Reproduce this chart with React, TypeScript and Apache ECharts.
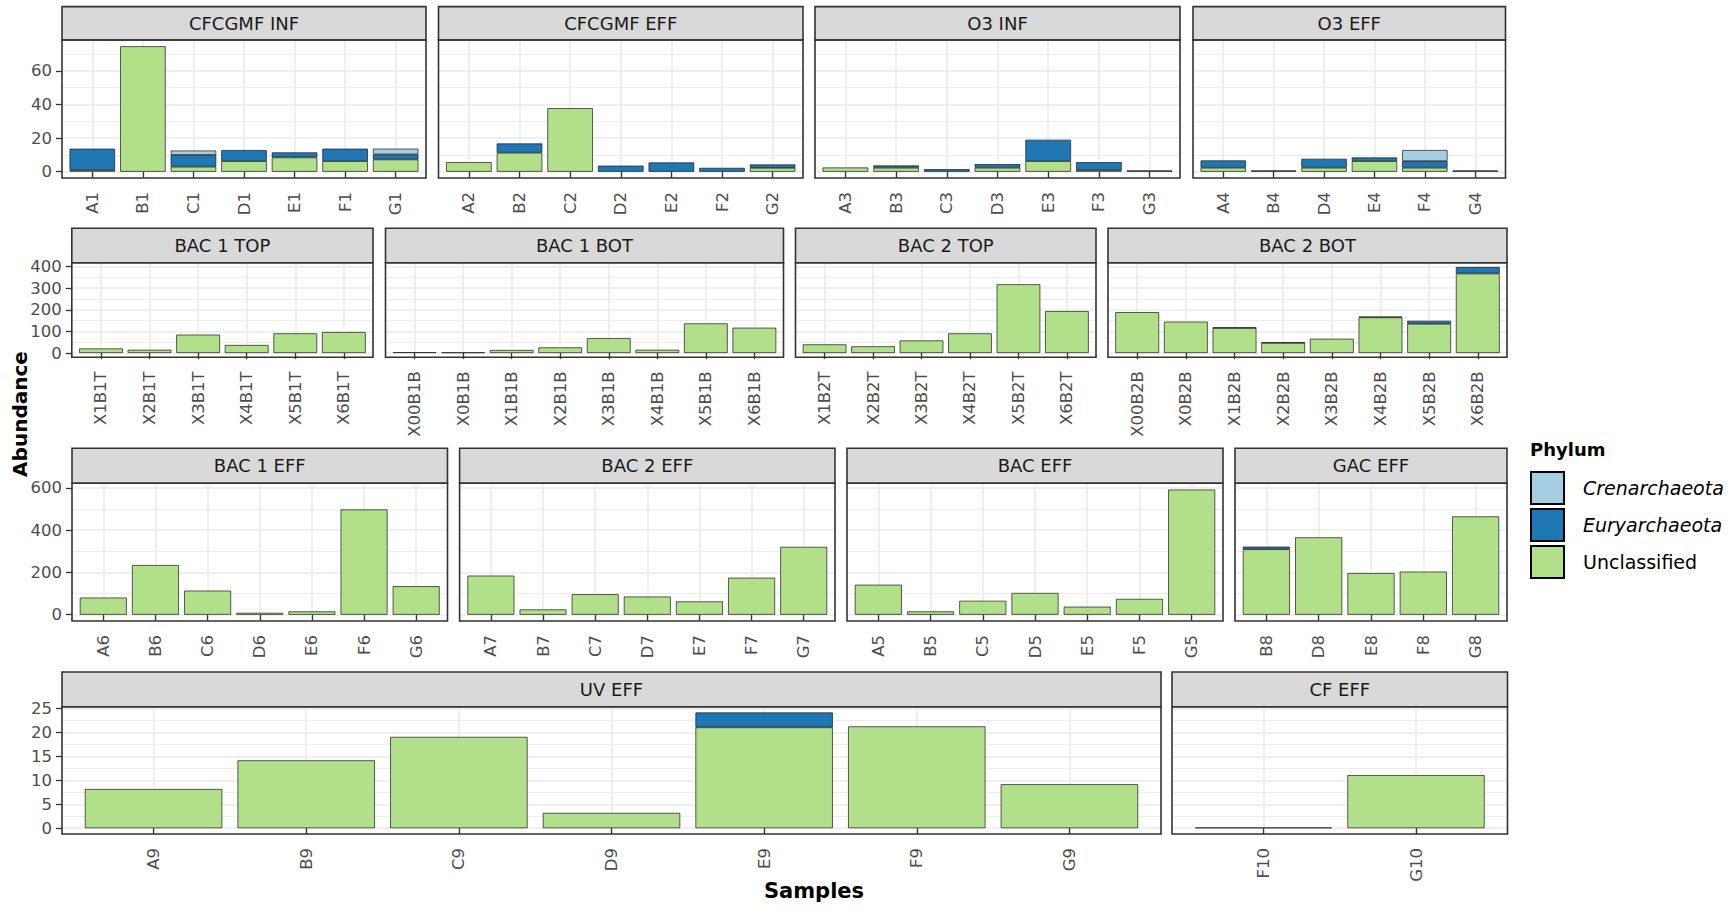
import React, { useEffect, useRef } from 'react';
import * as echarts from 'echarts';

const FONT = 'DejaVu Sans';

// Phylum fill colours (ColorBrewer "Paired")
const CREN_COLOR = '#A6CEE3';
const EURY_COLOR = '#1F78B4';
const UNCL_COLOR = '#B2DF8A';
const LEGEND_NAMES = ['Crenarchaeota', 'Euryarchaeota', 'Unclassified'];

// ---- abundance per sample, one set of arrays per treatment facet ----
const cfcgmfInfSamples = ['A1', 'B1', 'C1', 'D1', 'E1', 'F1', 'G1'];
const cfcgmfInfUnclassified = [1.0, 74.6, 3.0, 6.3, 8.5, 6.3, 7.3];
const cfcgmfInfEuryarchaeota = [12.7, 0, 7.0, 6.6, 3.0, 7.4, 3.0];
const cfcgmfInfCrenarchaeota = [0, 0, 2.6, 0, 0, 0, 3.4];

const cfcgmfEffSamples = ['A2', 'B2', 'C2', 'D2', 'E2', 'F2', 'G2'];
const cfcgmfEffUnclassified = [5.7, 11.3, 37.8, 0, 0, 0, 2.3];
const cfcgmfEffEuryarchaeota = [0, 5.5, 0, 3.6, 5.5, 2.3, 2.0];
const cfcgmfEffCrenarchaeota = [0, 0, 0, 0, 0, 0, 0];

const o3InfSamples = ['A3', 'B3', 'C3', 'D3', 'E3', 'F3', 'G3'];
const o3InfUnclassified = [2.5, 2.4, 0, 2.4, 6.3, 1.0, 0];
const o3InfEuryarchaeota = [0, 1.3, 1.5, 2.1, 12.7, 4.7, 0.8];
const o3InfCrenarchaeota = [0, 0, 0, 0, 0, 0, 0];

const o3EffSamples = ['A4', 'B4', 'D4', 'E4', 'F4', 'G4'];
const o3EffUnclassified = [2.4, 0, 2.4, 6.3, 2.4, 0];
const o3EffEuryarchaeota = [4.3, 0.8, 5.3, 2.2, 3.9, 0.8];
const o3EffCrenarchaeota = [0, 0, 0, 0, 6.6, 0];

const bac1TopSamples = ['X1B1T', 'X2B1T', 'X3B1T', 'X4B1T', 'X5B1T', 'X6B1T'];
const bac1TopUnclassified = [21, 15, 85, 37, 91, 97];
const bac1TopEuryarchaeota = [0, 0, 0, 0, 0, 0];
const bac1TopCrenarchaeota = [0, 0, 0, 0, 0, 0];

const bac1BotSamples = ['X00B1B', 'X0B1B', 'X1B1B', 'X2B1B', 'X3B1B', 'X4B1B', 'X5B1B', 'X6B1B'];
const bac1BotUnclassified = [4, 3, 14, 26, 69, 15, 137, 117];
const bac1BotEuryarchaeota = [0, 0, 0, 0, 0, 0, 0, 0];
const bac1BotCrenarchaeota = [0, 0, 0, 0, 0, 0, 0, 0];

const bac2TopSamples = ['X1B2T', 'X2B2T', 'X3B2T', 'X4B2T', 'X5B2T', 'X6B2T'];
const bac2TopUnclassified = [40, 31, 58, 91, 318, 194];
const bac2TopEuryarchaeota = [0, 0, 0, 0, 0, 0];
const bac2TopCrenarchaeota = [0, 0, 0, 0, 0, 0];

const bac2BotSamples = ['X00B2B', 'X0B2B', 'X1B2B', 'X2B2B', 'X3B2B', 'X4B2B', 'X5B2B', 'X6B2B'];
const bac2BotUnclassified = [189, 145, 116, 47, 66, 165, 135, 368];
const bac2BotEuryarchaeota = [0, 0, 2, 2, 0, 3, 14, 30];
const bac2BotCrenarchaeota = [0, 0, 0, 0, 0, 0, 0, 0];

const bac1EffSamples = ['A6', 'B6', 'C6', 'D6', 'E6', 'F6', 'G6'];
const bac1EffUnclassified = [81, 235, 114, 9, 16, 498, 135];
const bac1EffEuryarchaeota = [0, 0, 0, 0, 0, 0, 0];
const bac1EffCrenarchaeota = [0, 0, 0, 0, 0, 0, 0];

const bac2EffSamples = ['A7', 'B7', 'C7', 'D7', 'E7', 'F7', 'G7'];
const bac2EffUnclassified = [185, 25, 97, 86, 63, 175, 321];
const bac2EffEuryarchaeota = [0, 0, 0, 0, 0, 0, 0];
const bac2EffCrenarchaeota = [0, 0, 0, 0, 0, 0, 0];

const bacEffSamples = ['A5', 'B5', 'C5', 'D5', 'E5', 'F5', 'G5'];
const bacEffUnclassified = [142, 16, 66, 103, 38, 75, 592];
const bacEffEuryarchaeota = [0, 0, 0, 0, 0, 0, 0];
const bacEffCrenarchaeota = [0, 0, 0, 0, 0, 0, 0];

const gacEffSamples = ['B8', 'D8', 'E8', 'F8', 'G8'];
const gacEffUnclassified = [310, 366, 197, 204, 465];
const gacEffEuryarchaeota = [12, 0, 0, 0, 0];
const gacEffCrenarchaeota = [0, 0, 0, 0, 0];

const uvEffSamples = ['A9', 'B9', 'C9', 'D9', 'E9', 'F9', 'G9'];
const uvEffUnclassified = [8.2, 14.2, 19.1, 3.2, 21.1, 21.3, 9.2];
const uvEffEuryarchaeota = [0, 0, 0, 0, 3.1, 0, 0];
const uvEffCrenarchaeota = [0, 0, 0, 0, 0, 0, 0];

const cfEffSamples = ['F10', 'G10'];
const cfEffUnclassified = [0, 11.1];
const cfEffEuryarchaeota = [0.15, 0];
const cfEffCrenarchaeota = [0, 0];

// Major y-axis step for each facet row
const rowSteps = [20, 100, 200, 5];

type Panel = {
  title: string;
  row: number;
  samples: string[];
  unclassified: number[];
  eury: number[];
  cren: number[];
};

const panels: Panel[] = [
  { title: 'CFCGMF INF', row: 0, samples: cfcgmfInfSamples, unclassified: cfcgmfInfUnclassified, eury: cfcgmfInfEuryarchaeota, cren: cfcgmfInfCrenarchaeota },
  { title: 'CFCGMF EFF', row: 0, samples: cfcgmfEffSamples, unclassified: cfcgmfEffUnclassified, eury: cfcgmfEffEuryarchaeota, cren: cfcgmfEffCrenarchaeota },
  { title: 'O3 INF', row: 0, samples: o3InfSamples, unclassified: o3InfUnclassified, eury: o3InfEuryarchaeota, cren: o3InfCrenarchaeota },
  { title: 'O3 EFF', row: 0, samples: o3EffSamples, unclassified: o3EffUnclassified, eury: o3EffEuryarchaeota, cren: o3EffCrenarchaeota },
  { title: 'BAC 1 TOP', row: 1, samples: bac1TopSamples, unclassified: bac1TopUnclassified, eury: bac1TopEuryarchaeota, cren: bac1TopCrenarchaeota },
  { title: 'BAC 1 BOT', row: 1, samples: bac1BotSamples, unclassified: bac1BotUnclassified, eury: bac1BotEuryarchaeota, cren: bac1BotCrenarchaeota },
  { title: 'BAC 2 TOP', row: 1, samples: bac2TopSamples, unclassified: bac2TopUnclassified, eury: bac2TopEuryarchaeota, cren: bac2TopCrenarchaeota },
  { title: 'BAC 2 BOT', row: 1, samples: bac2BotSamples, unclassified: bac2BotUnclassified, eury: bac2BotEuryarchaeota, cren: bac2BotCrenarchaeota },
  { title: 'BAC 1 EFF', row: 2, samples: bac1EffSamples, unclassified: bac1EffUnclassified, eury: bac1EffEuryarchaeota, cren: bac1EffCrenarchaeota },
  { title: 'BAC 2 EFF', row: 2, samples: bac2EffSamples, unclassified: bac2EffUnclassified, eury: bac2EffEuryarchaeota, cren: bac2EffCrenarchaeota },
  { title: 'BAC EFF', row: 2, samples: bacEffSamples, unclassified: bacEffUnclassified, eury: bacEffEuryarchaeota, cren: bacEffCrenarchaeota },
  { title: 'GAC EFF', row: 2, samples: gacEffSamples, unclassified: gacEffUnclassified, eury: gacEffEuryarchaeota, cren: gacEffCrenarchaeota },
  { title: 'UV EFF', row: 3, samples: uvEffSamples, unclassified: uvEffUnclassified, eury: uvEffEuryarchaeota, cren: uvEffCrenarchaeota },
  { title: 'CF EFF', row: 3, samples: cfEffSamples, unclassified: cfEffUnclassified, eury: cfEffEuryarchaeota, cren: cfEffCrenarchaeota },
];

// ---- page layout (pixels) ----
const ROW_LAYOUT = [
  { stripTop: 6.6, plotTop: 40, plotBottom: 178 },
  { stripTop: 228.3, plotTop: 262.7, plotBottom: 357.3 },
  { stripTop: 448.3, plotTop: 483.3, plotBottom: 621 },
  { stripTop: 672, plotTop: 706.7, plotBottom: 834 },
];
const PANEL_X: [number, number][] = [
  [62, 426], [438.5, 803], [815, 1180], [1193, 1505.5],
  [71.8, 373], [385.5, 783.5], [795.5, 1096], [1108, 1507],
  [72, 447.5], [459.6, 835], [847, 1223], [1235, 1507],
  [62, 1161], [1172, 1507.5],
];

const GRID_COLOR = '#EBEBEB';
const BORDER_COLOR = '#333333';
const TICK_TEXT = '#4D4D4D';

function buildOption() {
  const grids: any[] = [];
  const xAxes: any[] = [];
  const yAxes: any[] = [];
  const series: any[] = [];
  const graphics: any[] = [];

  const rowMax = ROW_LAYOUT.map((_, r) =>
    Math.max(
      ...panels
        .filter((p) => p.row === r)
        .flatMap((p) => p.samples.map((_, j) => p.unclassified[j] + p.eury[j] + p.cren[j]))
    )
  );

  panels.forEach((p, i) => {
    const lay = ROW_LAYOUT[p.row];
    const [x0, x1] = PANEL_X[i];
    const n = p.samples.length;
    const M = rowMax[p.row];
    const step = rowSteps[p.row];
    const yMin = -0.05 * M;
    const yMax = 1.05 * M;
    const majors: number[] = [];
    for (let v = 0; v <= yMax + 1e-9; v += step) majors.push(v);
    const positions = p.samples.map((_, j) => j + 1);
    const firstInRow = panels.findIndex((q) => q.row === p.row) === i;

    grids.push({
      left: x0,
      top: lay.plotTop,
      width: x1 - x0,
      height: lay.plotBottom - lay.plotTop,
      containLabel: false,
      outerBoundsMode: 'none',
    });

    const samples = p.samples;
    // discrete positions 1..n on a continuous axis padded by 0.6 on each side
    xAxes.push({
      type: 'value',
      gridIndex: i,
      min: 0.4,
      max: n + 0.6,
      minInterval: 1,
      maxInterval: 1,
      axisLine: { show: false },
      axisTick: {
        show: true,
        length: 6,
        customValues: positions,
        lineStyle: { color: BORDER_COLOR, width: 1.3 },
      },
      axisLabel: {
        customValues: positions,
        rotate: 90,
        margin: 14,
        fontSize: 16.5,
        fontFamily: FONT,
        color: TICK_TEXT,
        formatter: (v: number) => {
          const k = Math.round(v);
          return Math.abs(v - k) < 1e-6 && samples[k - 1] ? samples[k - 1] : '';
        },
      },
      splitLine: { show: true, lineStyle: { color: GRID_COLOR, width: 1.6 } },
      minorSplitLine: { show: false },
    });

    yAxes.push({
      type: 'value',
      gridIndex: i,
      min: yMin,
      max: yMax,
      minInterval: step,
      maxInterval: step,
      axisLine: { show: false },
      axisTick: {
        show: firstInRow,
        length: 6,
        customValues: majors,
        lineStyle: { color: BORDER_COLOR, width: 1.3 },
      },
      axisLabel: {
        show: firstInRow,
        customValues: majors,
        margin: 10,
        fontSize: 16.5,
        fontFamily: FONT,
        color: TICK_TEXT,
      },
      splitLine: { show: true, lineStyle: { color: GRID_COLOR, width: 1.6 } },
      minorTick: { show: false, splitNumber: 2 },
      minorSplitLine: { show: true, lineStyle: { color: GRID_COLOR, width: 0.9 } },
    });

    // Stack from the bottom: Unclassified, Euryarchaeota, Crenarchaeota
    const layers: [string, number[], string][] = [
      ['Unclassified', p.unclassified, UNCL_COLOR],
      ['Euryarchaeota', p.eury, EURY_COLOR],
      ['Crenarchaeota', p.cren, CREN_COLOR],
    ];
    layers.forEach(([name, vals, color]) => {
      series.push({
        type: 'bar',
        name,
        xAxisIndex: i,
        yAxisIndex: i,
        stack: 'facet' + i,
        barWidth: '90%',
        silent: true,
        z: 3,
        // value first so that the stacked dimension is the abundance
        encode: { x: 1, y: 0 },
        itemStyle: { color, borderColor: '#1A1A1A', borderWidth: 0.7 },
        emphasis: { disabled: true },
        data: samples.map((_, j) => [vals[j] > 0 ? vals[j] : '-', j + 1]),
      });
    });

    // facet strip and panel border
    graphics.push({
      type: 'rect',
      z: 100,
      silent: true,
      shape: { x: x0, y: lay.stripTop, width: x1 - x0, height: lay.plotTop - lay.stripTop },
      style: { fill: '#D9D9D9', stroke: BORDER_COLOR, lineWidth: 1.6 },
    });
    graphics.push({
      type: 'text',
      z: 101,
      silent: true,
      x: (x0 + x1) / 2,
      y: (lay.stripTop + lay.plotTop) / 2,
      style: {
        text: p.title,
        fontSize: 18,
        fontFamily: FONT,
        fill: '#1A1A1A',
        align: 'center',
        verticalAlign: 'middle',
      },
    });
    graphics.push({
      type: 'rect',
      z: 100,
      silent: true,
      shape: { x: x0, y: lay.plotTop, width: x1 - x0, height: lay.plotBottom - lay.plotTop },
      style: { fill: null, stroke: BORDER_COLOR, lineWidth: 1.6 },
    });
  });

  // axis titles and legend title
  graphics.push({
    type: 'text',
    z: 101,
    silent: true,
    x: 814,
    y: 891,
    style: {
      text: 'Samples',
      fontSize: 21,
      fontWeight: 'bold',
      fontFamily: FONT,
      fill: '#000',
      align: 'center',
      verticalAlign: 'middle',
    },
  });
  graphics.push({
    type: 'text',
    z: 101,
    silent: true,
    x: 20,
    y: 414,
    rotation: Math.PI / 2,
    style: {
      text: 'Abundance',
      fontSize: 20,
      fontWeight: 'bold',
      fontFamily: FONT,
      fill: '#000',
      align: 'center',
      verticalAlign: 'middle',
    },
  });
  graphics.push({
    type: 'text',
    z: 101,
    silent: true,
    x: 1530,
    y: 449,
    style: {
      text: 'Phylum',
      fontSize: 18,
      fontWeight: 'bold',
      fontFamily: FONT,
      fill: '#000',
      align: 'left',
      verticalAlign: 'middle',
    },
  });

  return {
    animation: false,
    backgroundColor: '#FFFFFF',
    grid: grids,
    xAxis: xAxes,
    yAxis: yAxes,
    series,
    graphic: graphics,
    legend: {
      data: LEGEND_NAMES,
      orient: 'vertical',
      left: 1530,
      top: 471,
      padding: 0,
      itemWidth: 33,
      itemHeight: 32,
      itemGap: 3,
      icon: 'rect',
      selectedMode: false,
      itemStyle: { borderColor: '#000', borderWidth: 2 },
      formatter: (name: string) => (name === 'Unclassified' ? `{n|${name}}` : `{i|${name}}`),
      textStyle: {
        fontSize: 19,
        fontFamily: FONT,
        color: '#000',
        rich: {
          i: { fontStyle: 'italic', fontSize: 19, fontFamily: FONT, color: '#000', padding: [0, 0, 0, 14] },
          n: { fontSize: 19, fontFamily: FONT, color: '#000', padding: [0, 0, 0, 14] },
        },
      },
    },
  };
}

export default function App() {
  const ref = useRef<HTMLDivElement>(null);

  useEffect(() => {
    if (!ref.current) return;
    const chart = echarts.init(ref.current, undefined, { renderer: 'svg' });
    chart.setOption(buildOption() as any);
    return () => chart.dispose();
  }, []);

  return (
    <div
      ref={ref}
      style={{ position: 'absolute', left: 0, top: 0, width: 1732, height: 912, background: '#fff' }}
    />
  );
}
